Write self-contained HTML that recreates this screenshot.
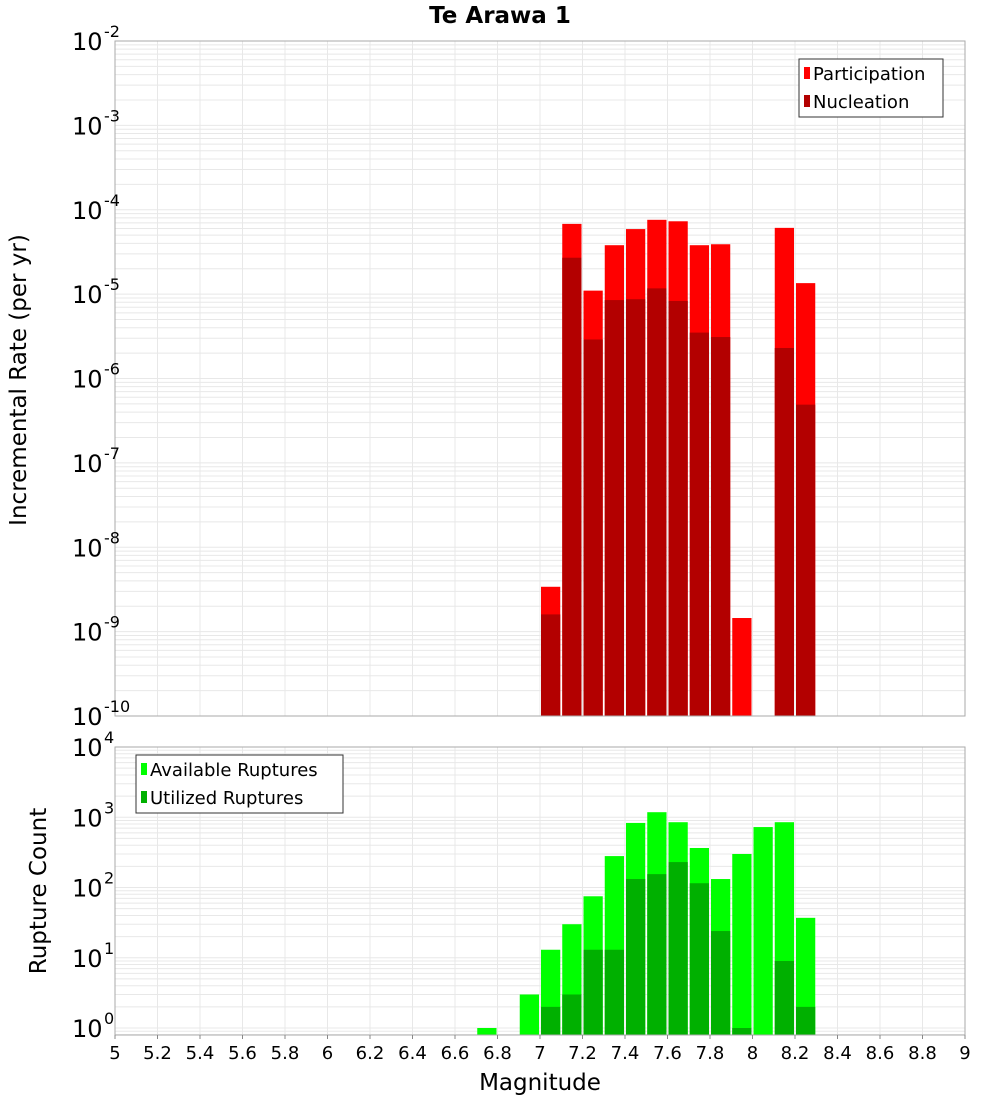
<!DOCTYPE html>
<html><head><meta charset="utf-8"><style>
body{margin:0;background:#fff;}
svg{display:block;font-family:"DejaVu Sans","Liberation Sans",sans-serif;}
</style></head><body>
<svg id="c" width="1000" height="1100" xmlns="http://www.w3.org/2000/svg">
<text x="500" y="23" text-anchor="middle" font-size="23" font-weight="bold">Te Arawa 1</text>
<g id="top"></g>
<g id="bot"></g>
<text transform="translate(26,380) rotate(-90)" text-anchor="middle" font-size="23">Incremental Rate (per yr)</text>
<text transform="translate(46,891) rotate(-90)" text-anchor="middle" font-size="23">Rupture Count</text>
<text x="540" y="1090" text-anchor="middle" font-size="23">Magnitude</text>
</svg>
<script>
const mags = [6.75,6.95,7.05,7.15,7.25,7.35,7.45,7.55,7.65,7.75,7.85,7.95,8.05,8.15,8.25];
const participation = [0,0,3.4e-9,6.8e-5,1.1e-5,3.8e-5,5.9e-5,7.6e-5,7.3e-5,3.8e-5,3.9e-5,1.45e-9,0,6.1e-5,1.35e-5];
const nucleation = [0,0,1.6e-9,2.7e-5,2.9e-6,8.5e-6,8.7e-6,1.17e-5,8.3e-6,3.5e-6,3.1e-6,0,0,2.3e-6,4.9e-7];
const available = [1,3,13,30,75,280,830,1180,850,365,132,300,725,850,37];
const utilized = [0,0,2,3,13,13,132,155,230,115,24,1,0,9,2];
const xTicks = ["5","5.2","5.4","5.6","5.8","6","6.2","6.4","6.6","6.8","7","7.2","7.4","7.6","7.8","8","8.2","8.4","8.6","8.8","9"];
const topExp = [-2,-3,-4,-5,-6,-7,-8,-9,-10];
const botExp = [4,3,2,1,0];

const NS="http://www.w3.org/2000/svg";
const X0=115,X1=965;
const xs=m=>X0+(m-5)/4*(X1-X0);
function mk(p,t,a){const e=document.createElementNS(NS,t);for(const k in a)e.setAttribute(k,a[k]);p.appendChild(e);return e;}
function plot(g,top,bottom,lmax,lmin){
  const ys=v=>top+(lmax-Math.log10(v))/(lmax-lmin)*(bottom-top);
  mk(g,'rect',{x:X0,y:top,width:X1-X0,height:bottom-top,fill:'#fff'});
  for(let d=Math.floor(lmin);d<lmax;d++)for(let k=1;k<10;k++){const y=ys(k*Math.pow(10,d));if(y<top||y>bottom)continue;
    const l=mk(g,'line',{x1:X0,x2:X1,y1:y,y2:y,stroke:'#e8e8e8','stroke-width':1});
    }
  xTicks.forEach(t=>{const x=xs(+t);const l=mk(g,'line',{x1:x,x2:x,y1:top,y2:bottom,stroke:'#e8e8e8','stroke-width':1});
    });
  return ys;
}
function bars(g,vals,ys,bottom,color,name){
  vals.forEach((v,i)=>{if(!v)return;const x=xs(mags[i]-0.05)+1,w=xs(mags[i]+0.05)-xs(mags[i]-0.05)-2;const y=Math.max(ys(v),0);
    const r=mk(g,'rect',{x:x,y:y,width:w,height:bottom-y,fill:color});
    });
}
function ylabels(g,exps,ys,name){
  exps.forEach(e=>{const y=ys(Math.pow(10,e));const t=mk(g,'text',{x:72,y:y+9,'font-size':24});
    t.textContent='10';
    const s=mk(g,'text',{x:104,y:y-4,'font-size':16});s.textContent=String(e);
    });
}
function legend(g,x,y,w,items,name){
  const b=mk(g,'rect',{x:x,y:y,width:w,height:58,fill:'#fff',stroke:'#333','stroke-width':1});
  
  items.forEach((it,i)=>{const yy=y+14+i*28;const r=mk(g,'rect',{x:x+5,y:yy-6,width:6,height:12,fill:it[1]});
    
    const t=mk(g,'text',{x:x+14,y:yy+7,'font-size':18});t.textContent=it[0];
    });
}
const gt=document.getElementById('top'),gb=document.getElementById('bot');
const yt=plot(gt,41,716,-2,-10);
bars(gt,participation,yt,716,'#ff0000','participation');
bars(gt,nucleation,yt,716,'#b30000','nucleation');
mk(gt,'rect',{x:X0,y:41,width:X1-X0,height:675,fill:'none',stroke:'#aaa'});
ylabels(gt,topExp,yt,'top-y');
legend(gt,799,59,144,[['Participation','#ff0000'],['Nucleation','#b30000']],'top-legend');
const botTop=747,botBot=1035,dec=(1028-747)/4;
const yb=plot(gb,botTop,botBot,4,-(botBot-1028)/dec);
bars(gb,available,yb,botBot,'#00ff00','available');
bars(gb,utilized,yb,botBot,'#00b000','utilized');
mk(gb,'rect',{x:X0,y:botTop,width:X1-X0,height:botBot-botTop,fill:'none',stroke:'#aaa'});
ylabels(gb,botExp,yb,'bottom-y');
legend(gb,136,755,207,[['Available Ruptures','#00ff00'],['Utilized Ruptures','#00b000']],'bottom-legend');
xTicks.forEach(t=>{const x=xs(+t);mk(gb,'line',{x1:x,x2:x,y1:botBot,y2:botBot+4,stroke:'#888'});
  const e=mk(gb,'text',{x:x,y:1059,'text-anchor':'middle','font-size':18});e.textContent=t;
  });
</script>
</body></html>
